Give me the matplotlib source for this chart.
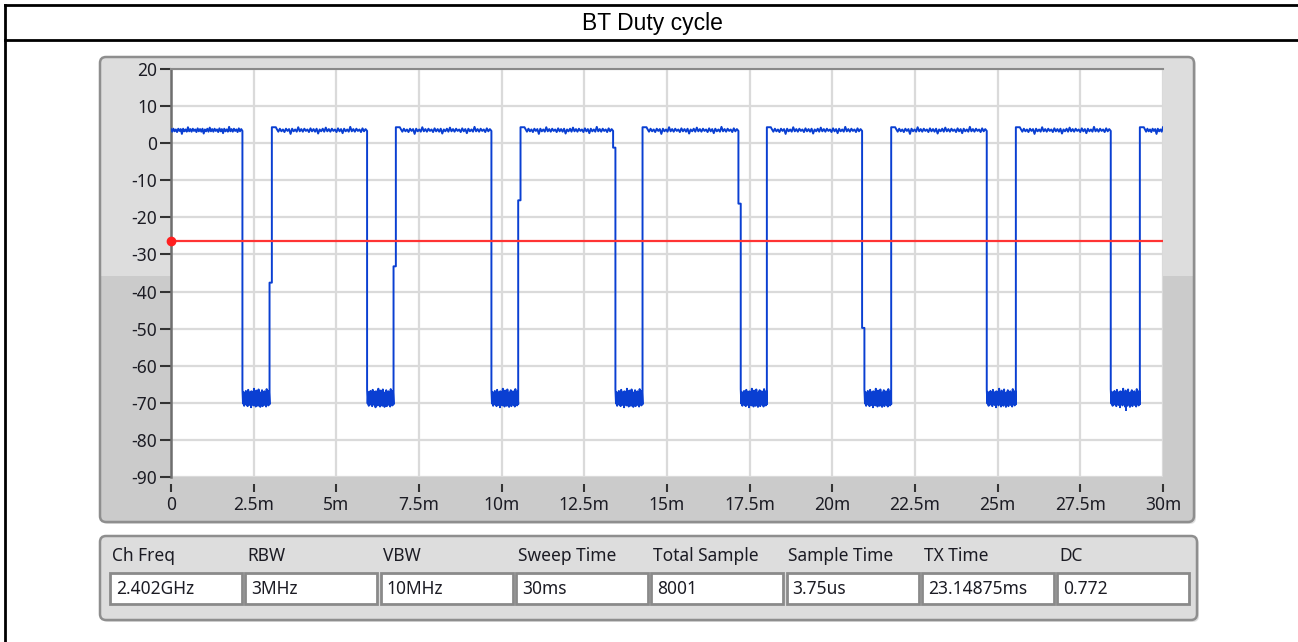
import numpy as np
import matplotlib.pyplot as plt
from matplotlib.patches import FancyBboxPatch, Rectangle
from matplotlib.ticker import FuncFormatter, MultipleLocator

# edges of the bursts (ms)
fall_ms = [2.16, 5.93, 9.69, 13.37, 17.16, 20.90, 24.67, 28.42]
fall_kink_db = [None, None, None, -1.2, -16.3, -49.8, None, None]
rise_ms = [2.98, 6.73, 10.50, 14.26, 18.02, 21.78, 25.55, 29.30]
rise_kink_db = [-37.6, -33.2, -15.4, None, None, None, None, None]
kink_ms = 0.07
overshoot_db = 4.3
sweep_ms = 30.0

# ripple on the TX level and on the noise floor (dB)
top_db = [3.8, 3.1, 3.9, 3.2, 3.7, 3.0, 3.9, 3.3, 3.8, 2.5, 3.9, 3.2, 3.7, 3.1, 4.3, 3.2, 3.8, 3.1, 3.9, 3.3,
          3.7, 3.0, 4.0, 3.2, 3.8, 3.1, 3.9, 2.6, 3.7, 3.2, 3.9, 3.1, 4.2, 3.2, 3.8, 3.1, 3.9, 3.3, 3.7, 3.0,
          4.0, 3.2, 3.8, 2.7, 3.9, 3.2, 3.7, 3.1, 4.4, 3.2, 3.8, 3.1, 3.9, 3.3, 3.7, 3.0, 4.0, 3.2, 3.8, 3.3]
floor_db = [-66.3, -70.2, -67.1, -70.8, -67.6, -69.9, -66.8, -70.5, -67.9, -70.9, -66.5, -70.1,
            -68.2, -70.6, -67.0, -71.2, -66.9, -70.3, -67.5, -70.7, -66.2, -69.8, -67.8, -71.0,
            -66.7, -70.4, -68.0, -70.8, -66.4, -70.0, -67.3, -71.1, -67.2, -70.5, -66.6, -70.9,
            -68.1, -69.9, -66.9, -70.6, -67.4, -71.0, -66.3, -70.2, -67.7, -70.7, -66.8, -70.4]
spike_ms = [28.88]
spike_db = [-72.3]
threshold_db = -26.4

info_labels = ["Ch Freq", "RBW", "VBW", "Sweep Time", "Total Sample",
               "Sample Time", "TX Time", "DC"]
info_values = ["2.402GHz", "3MHz", "10MHz", "30ms", "8001", "3.75us",
               "23.14875ms", "0.772"]

# build the trace
t, v = [], []
seg_start = 0.0
for i, f in enumerate(fall_ms):
    t.extend(np.linspace(seg_start, f, len(top_db)))
    v.extend(top_db)
    floor_start = f
    if fall_kink_db[i] is not None:
        t += [f, f + kink_ms]
        v += [fall_kink_db[i], fall_kink_db[i]]
        floor_start = f + kink_ms
    r = rise_ms[i]
    t.extend(np.linspace(floor_start, r, len(floor_db)))
    v.extend(floor_db)
    top_x = r
    if rise_kink_db[i] is not None:
        t += [r, r + kink_ms]
        v += [rise_kink_db[i], rise_kink_db[i]]
        top_x = r + kink_ms
    t += [top_x, top_x + 0.12]
    v += [overshoot_db, overshoot_db]
    seg_start = top_x + 0.15
t.extend(np.linspace(seg_start, sweep_ms, len(top_db) // 4))
v.extend(top_db[:len(top_db) // 4])

W, H = 1298, 642
fig = plt.figure(figsize=(W / 100, H / 100), dpi=100)
fig.patch.set_facecolor('white')

# background layer in pixel units
bg = fig.add_axes([0, 0, 1, 1], zorder=0)
bg.set_xlim(0, W)
bg.set_ylim(H, 0)
bg.axis('off')

# report table lines + title
bg.plot([5, W], [5, 5], color='black', lw=2)
bg.plot([5, W], [40, 40], color='black', lw=2)
bg.plot([5, 5], [5, H], color='black', lw=2)
bg.text(652, 23.5, 'BT Duty cycle', ha='center', va='center', fontsize=16.5,
        family='Liberation Sans', color='black')

# graph panel
shadow = FancyBboxPatch((102, 59), 1094, 465, boxstyle='round,pad=0,rounding_size=6',
                        fc='#d4d4d4', ec='none', alpha=0.7)
bg.add_patch(shadow)
panel = FancyBboxPatch((100, 57), 1094, 465, boxstyle='round,pad=0,rounding_size=6',
                       fc='#dddddd', ec='none')
bg.add_patch(panel)
lower = Rectangle((100, 276), 1094, 246, fc='#cbcbcb', ec='none')
bg.add_patch(lower)
lower.set_clip_path(panel)
bg.add_patch(FancyBboxPatch((100, 57), 1094, 465, boxstyle='round,pad=0,rounding_size=6',
                            fc='none', ec='#8e8e8e', lw=1.8))

# info panel
bg.add_patch(FancyBboxPatch((102, 538), 1097, 84, boxstyle='round,pad=0,rounding_size=6',
                            fc='#d4d4d4', ec='none', alpha=0.7))
bg.add_patch(FancyBboxPatch((100, 536), 1097, 84, boxstyle='round,pad=0,rounding_size=6',
                            fc='#dddddd', ec='#8e8e8e', lw=1.8))
for i, (lab, val) in enumerate(zip(info_labels, info_values)):
    x0 = 110 + i * 135.3
    bg.text(x0 + 2, 556, lab, ha='left', va='center', fontsize=12.5,
            family='Noto Sans', color='#1c1c24')
    bg.add_patch(Rectangle((x0, 573), 132, 31, fc='white', ec='#8a8a8a', lw=2))
    bg.text(x0 + 6, 589, val, ha='left', va='center', fontsize=12.5,
            family='Noto Sans', color='#1c1c24')

# the graph itself
ax = fig.add_axes([171 / W, (H - 477) / H, (1163 - 171) / W, (477 - 69) / H], zorder=1)
ax.set_facecolor('white')
ax.plot(t, v, color='#0a3fd2', lw=1.4, zorder=3)
ax.vlines(spike_ms, -69, spike_db, color='#0a3fd2', lw=1.4, zorder=3)
ax.axhline(threshold_db, color='#ff3333', lw=1.6, zorder=4)
ax.plot([0], [threshold_db], 'o', color='#ff2020', ms=6, clip_on=False, zorder=5)

ax.set_xlim(0, sweep_ms)
ax.set_ylim(-90, 20)
ax.xaxis.set_major_locator(MultipleLocator(2.5))
ax.yaxis.set_major_locator(MultipleLocator(10))
ax.xaxis.set_major_formatter(FuncFormatter(lambda x, p: '0' if x == 0 else f'{x:g}m'))
ax.yaxis.set_major_formatter(FuncFormatter(lambda y, p: f'{y:g}'))
ax.grid(True, color='#dadada', lw=1.6, zorder=0)
ax.set_axisbelow(True)

ax.spines['right'].set_visible(False)
ax.spines['bottom'].set_position(('outward', 5))
ax.spines['bottom'].set_color('none')
ax.spines['left'].set_color('#6e6e6e')
ax.spines['left'].set_linewidth(1.8)
ax.spines['top'].set_color('#8a8a8a')
ax.spines['top'].set_linewidth(1.5)

ax.tick_params(axis='y', length=8, width=1.5, color='#333333', pad=2,
               labelsize=12.5, labelcolor='#1c1c24')
ax.tick_params(axis='x', length=6, width=1.5, color='#333333', pad=3,
               labelsize=12.5, labelcolor='#1c1c24')
for lab in ax.get_xticklabels() + ax.get_yticklabels():
    lab.set_family('Noto Sans')

fig.savefig('out.png', dpi=100)
